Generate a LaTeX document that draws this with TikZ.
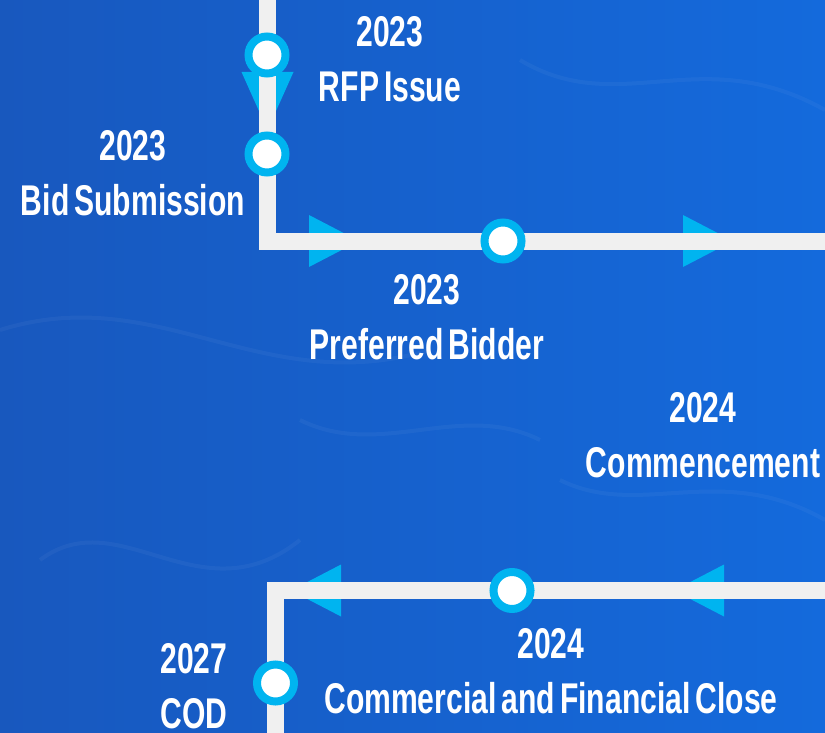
\documentclass[tikz,border=0pt]{standalone}
\usepackage{fontspec}
\newfontfamily\datefont{Liberation Sans}[FakeStretch=0.7, WordSpace=0.6]
\usetikzlibrary{positioning}
\definecolor{trackcol}{RGB}{240,240,240}
\definecolor{markcol}{RGB}{0,180,240}
\definecolor{skyleft}{RGB}{24,88,190}
\definecolor{skyright}{RGB}{20,106,220}

\begin{document}
\begin{tikzpicture}[
			x=1pt,
			y=-1pt,
			track/.style={
				draw=trackcol,
				line width=17pt,
				line join=miter
			},
			milestone/.style={
				circle,
				draw=markcol,
				line width=8pt,
				fill=white,
				minimum size=37pt,
				inner sep=0pt
			},
			datetext/.style={
				text=white,
				align=center,
				inner sep=0pt,
				font=\datefont\bfseries\fontsize{43}{55}\selectfont
			},
			ripple/.style={
				draw=white,
				opacity=0.04,
				line width=4pt
			}
			]
			% Background
			\useasboundingbox (0,0) rectangle (825,733);
			\clip (0,0) rectangle (825,733);
			\shade[left color=skyleft, right color=skyright] (0,0) rectangle (825,733);
			\draw[ripple] (0,330) .. controls (160,280) and (260,400) .. (430,350);
			\draw[ripple] (520,60) .. controls (620,120) and (700,40) .. (825,110);
			\draw[ripple] (40,560) .. controls (120,500) and (200,620) .. (300,540);
			\draw[ripple] (560,480) .. controls (640,520) and (720,460) .. (825,520);
			\draw[ripple] (300,420) .. controls (380,460) and (460,400) .. (540,440);
			
			% Chevrons
			\foreach \x/\y/\a/\l in {267.5/72/-90/58, 309/241/0/50, 683/241/0/50, 341/590.5/180/50, 724/590.5/180/50}
				\fill[markcol, shift={(\x,\y)}, rotate=\a] (0,-26) -- (\l,0) -- (0,26) -- cycle;
			
			% Track
			\coordinate (top) at (267,-20);
			\coordinate (m1) at (267,55);
			\coordinate (m2) at (267,154);
			\coordinate (bend1) at (267,241);
			\coordinate (m3) at (503,241);
			\coordinate (east1) at (845,241);
			\coordinate (east2) at (845,590.5);
			\coordinate (m4) at (512,590.5);
			\coordinate (bend2) at (275.5,590.5);
			\coordinate (m5) at (275.5,683);
			\coordinate (bottom) at (275.5,760);
			\draw[track] (top) -- (m1) -- (m2) -- (bend1) -- (m3) -- (east1);
			\draw[track] (east2) -- (m4) -- (bend2) -- (m5) -- (bottom);
			
			% Milestones
			\node[milestone] (rfp) at (m1) {};
			\node[milestone] (bid) at (m2) {};
			\node[milestone] (pref) at (m3) {};
			\node[milestone] (close) at (m4) {};
			\node[milestone] (cod) at (m5) {};
			
			% Dates
			\node[datetext] (rfptext) at (390,59.5) {2023\\RFP Issue};
			\node[datetext] (bidtext) at (133,173) {2023\\Bid Submission};
			\node[datetext] (preftext) at (427,317.5) {2023\\Preferred Bidder};
			\node[datetext] (starttext) at (703,435) {2024\\Commencement};
			\node[datetext] (closetext) at (551,671.5) {2024\\Commercial and Financial Close};
			\node[datetext] (codtext) at (194,686) {2027\\COD};
		\end{tikzpicture}
\end{document}
